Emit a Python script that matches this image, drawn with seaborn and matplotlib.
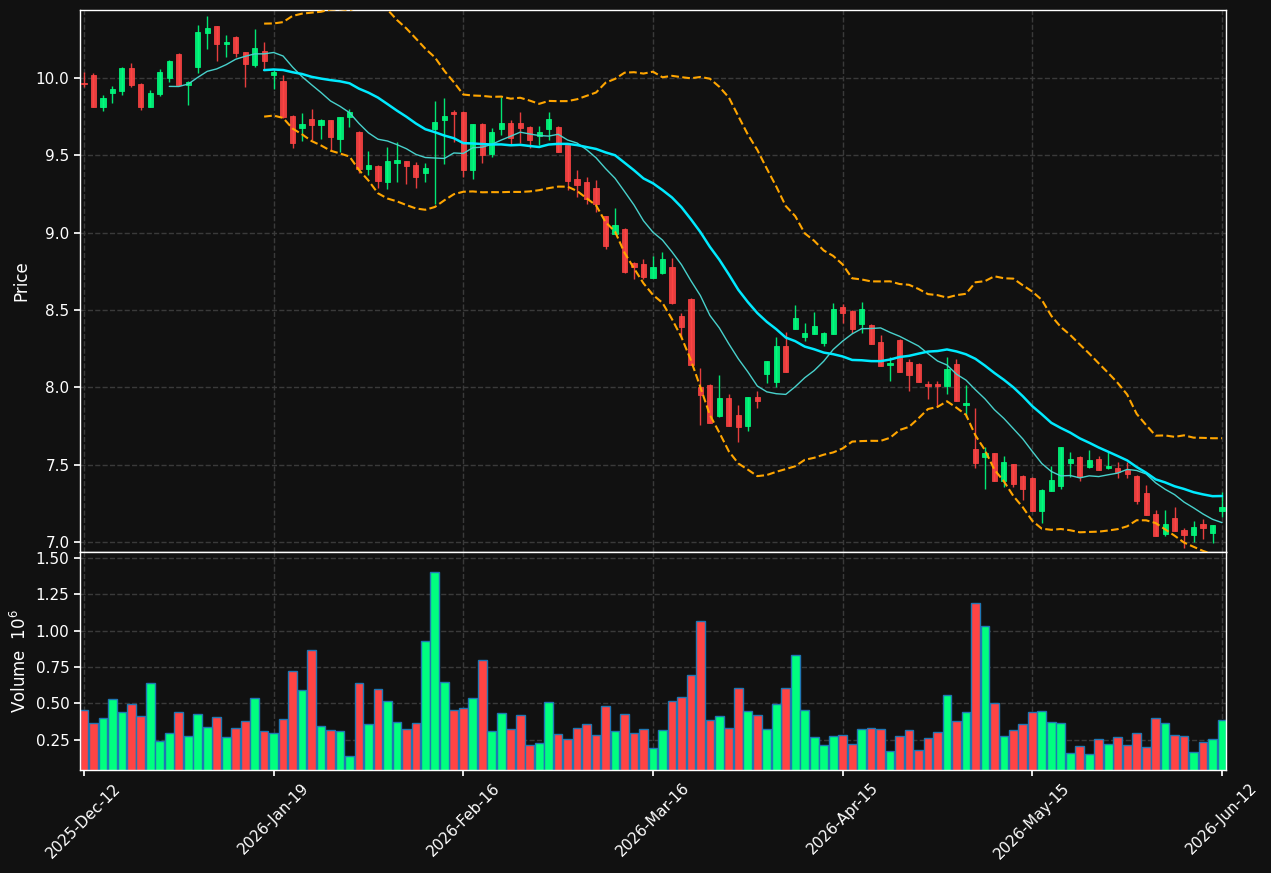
import numpy as np
import pandas as pd
import matplotlib
matplotlib.use('Agg')
import matplotlib.pyplot as plt
import seaborn as sns

# daily OHLC (121 sessions)
opens = [9.97, 10.02, 9.815, 9.905, 9.918, 10.065, 9.96, 9.815, 9.899, 10.002,
         10.155, 9.955, 10.071, 10.291, 10.336, 10.22, 10.265, 10.168, 10.084, 10.175,
         10.019, 9.981, 9.754, 9.679, 9.735, 9.698, 9.728, 9.608, 9.75, 9.651,
         9.412, 9.431, 9.33, 9.452, 9.463, 9.437, 9.388, 9.67, 9.728, 9.78,
         9.78, 9.405, 9.703, 9.509, 9.67, 9.709, 9.709, 9.683, 9.627, 9.67,
         9.683, 9.567, 9.347, 9.328, 9.289, 9.108, 8.993, 9.024, 8.804, 8.80,
         8.709, 8.741, 8.778, 8.461, 8.571, 8.005, 8.015, 7.815, 7.931, 7.821,
         7.75, 7.938, 8.088, 8.035, 8.27, 8.379, 8.328, 8.347, 8.289, 8.347,
         8.519, 8.494, 8.411, 8.403, 8.293, 8.144, 8.306, 8.164, 8.151, 8.022,
         8.02, 8.011, 8.151, 7.888, 7.601, 7.55, 7.573, 7.396, 7.502, 7.427,
         7.414, 7.202, 7.332, 7.364, 7.513, 7.55, 7.485, 7.537, 7.478, 7.478,
         7.466, 7.427, 7.317, 7.183, 7.054, 7.155, 7.078, 7.047, 7.119, 7.06,
         7.202]
highs = [10.04, 10.03, 9.89, 9.948, 10.07, 10.095, 9.965, 9.92, 10.06, 10.12,
         10.16, 9.98, 10.343, 10.40, 10.34, 10.278, 10.27, 10.17, 10.317, 10.233,
         10.05, 10.02, 9.76, 9.776, 9.797, 9.735, 9.73, 9.75, 9.797, 9.655,
         9.528, 9.435, 9.556, 9.584, 9.465, 9.457, 9.45, 9.849, 9.869, 9.793,
         9.785, 9.703, 9.71, 9.675, 9.875, 9.728, 9.78, 9.69, 9.688, 9.78,
         9.69, 9.57, 9.405, 9.36, 9.34, 9.11, 9.159, 9.03, 8.81, 8.83,
         8.851, 8.873, 8.838, 8.479, 8.575, 8.123, 8.02, 8.08, 7.96, 7.886,
         7.94, 7.976, 8.17, 8.328, 8.356, 8.532, 8.414, 8.487, 8.355, 8.543,
         8.54, 8.50, 8.55, 8.41, 8.338, 8.198, 8.31, 8.181, 8.155, 8.041,
         8.041, 8.194, 8.181, 8.013, 7.865, 7.616, 7.575, 7.554, 7.505, 7.43,
         7.42, 7.34, 7.491, 7.614, 7.58, 7.555, 7.595, 7.556, 7.584, 7.517,
         7.517, 7.43, 7.369, 7.205, 7.207, 7.228, 7.09, 7.136, 7.149, 7.112,
         7.326]
lows = [9.94, 9.81, 9.79, 9.836, 9.888, 9.94, 9.793, 9.81, 9.885, 9.975,
        9.95, 9.828, 10.034, 10.19, 10.112, 10.134, 10.134, 9.94, 10.073, 10.056,
        9.927, 9.745, 9.545, 9.591, 9.60, 9.604, 9.534, 9.524, 9.681, 9.384,
        9.373, 9.291, 9.28, 9.33, 9.313, 9.291, 9.33, 9.183, 9.442, 9.588,
        9.362, 9.349, 9.452, 9.49, 9.631, 9.573, 9.578, 9.545, 9.567, 9.599,
        9.52, 9.276, 9.233, 9.185, 9.136, 8.892, 8.99, 8.74, 8.703, 8.70,
        8.705, 8.735, 8.54, 8.328, 8.146, 7.755, 7.77, 7.81, 7.75, 7.649,
        7.72, 7.869, 8.03, 8.0, 8.10, 8.375, 8.301, 8.345, 8.27, 8.345,
        8.414, 8.349, 8.349, 8.28, 8.14, 8.041, 8.10, 7.974, 8.036, 7.923,
        7.88, 7.955, 7.914, 7.81, 7.477, 7.341, 7.396, 7.358, 7.358, 7.272,
        7.20, 7.125, 7.33, 7.341, 7.422, 7.393, 7.48, 7.465, 7.475, 7.411,
        7.411, 7.246, 7.175, 7.041, 7.041, 7.07, 6.96, 7.0, 7.022, 6.99,
        7.16]
closes = [9.96, 9.815, 9.87, 9.93, 10.065, 9.957, 9.815, 9.903, 10.039, 10.108,
          9.953, 9.976, 10.297, 10.323, 10.222, 10.233, 10.164, 10.093, 10.194, 10.112,
          10.041, 9.748, 9.582, 9.703, 9.698, 9.728, 9.621, 9.748, 9.782, 9.414,
          9.436, 9.336, 9.465, 9.47, 9.431, 9.362, 9.418, 9.716, 9.754, 9.769,
          9.405, 9.703, 9.504, 9.651, 9.709, 9.612, 9.679, 9.599, 9.651, 9.735,
          9.52, 9.334, 9.308, 9.22, 9.185, 8.916, 9.05, 8.746, 8.778, 8.713,
          8.778, 8.83, 8.547, 8.392, 8.146, 7.95, 7.772, 7.931, 7.75, 7.746,
          7.938, 7.914, 8.17, 8.27, 8.101, 8.448, 8.351, 8.397, 8.351, 8.506,
          8.483, 8.379, 8.506, 8.282, 8.14, 8.157, 8.101, 8.082, 8.036, 8.011,
          8.01, 8.118, 7.914, 7.899, 7.513, 7.573, 7.396, 7.517, 7.375, 7.345,
          7.202, 7.336, 7.401, 7.614, 7.537, 7.42, 7.53, 7.468, 7.491, 7.455,
          7.44, 7.265, 7.177, 7.041, 7.119, 7.073, 7.047, 7.097, 7.093, 7.112,
          7.226]
# volume in millions
volumes = [0.455, 0.365, 0.40, 0.531, 0.441, 0.497, 0.414, 0.642, 0.241, 0.296,
           0.441, 0.276, 0.427, 0.338, 0.407, 0.269, 0.331, 0.379, 0.538, 0.31,
           0.296, 0.393, 0.724, 0.593, 0.869, 0.345, 0.317, 0.31, 0.137, 0.642,
           0.358, 0.60, 0.517, 0.372, 0.324, 0.365, 0.925, 1.40, 0.648, 0.455,
           0.469, 0.538, 0.80, 0.31, 0.434, 0.324, 0.421, 0.213, 0.227, 0.51,
           0.289, 0.255, 0.331, 0.358, 0.282, 0.483, 0.31, 0.427, 0.296, 0.324,
           0.193, 0.317, 0.517, 0.545, 0.697, 1.063, 0.386, 0.414, 0.331, 0.607,
           0.448, 0.421, 0.324, 0.497, 0.607, 0.835, 0.455, 0.269, 0.213, 0.276,
           0.282, 0.22, 0.324, 0.331, 0.324, 0.172, 0.276, 0.317, 0.179, 0.262,
           0.303, 0.559, 0.379, 0.441, 1.187, 1.028, 0.503, 0.276, 0.317, 0.358,
           0.441, 0.448, 0.372, 0.365, 0.158, 0.206, 0.151, 0.255, 0.22, 0.269,
           0.213, 0.296, 0.20, 0.40, 0.365, 0.282, 0.276, 0.165, 0.234, 0.255,
           0.386]
tick_pos = [0, 20, 40, 60, 80, 100, 120]
tick_labels = ['2025-Dec-12', '2026-Jan-19', '2026-Feb-16', '2026-Mar-16',
               '2026-Apr-15', '2026-May-15', '2026-Jun-12']

df = pd.DataFrame({'Open': opens, 'High': highs, 'Low': lows,
                   'Close': closes, 'Volume': volumes})
df['idx'] = np.arange(len(df))
df['dir'] = np.where(df.Close >= df.Open, 'up', 'down')
df['ma10'] = df.Close.rolling(10).mean()
df['ma20'] = df.Close.rolling(20).mean()
sd = df.Close.rolling(20).std(ddof=0)
df['bb_up'] = df.ma20 + 2 * sd
df['bb_lo'] = df.ma20 - 2 * sd

bg = '#111111'
up_c, down_c = '#00ff7f', '#ff4444'
sns.set_theme(style='darkgrid', rc={
    'figure.facecolor': bg, 'axes.facecolor': bg, 'axes.edgecolor': 'white',
    'axes.labelcolor': 'white', 'xtick.color': 'white', 'ytick.color': 'white',
    'text.color': 'white', 'grid.color': '#3a3a3a', 'grid.linestyle': '--',
    'grid.linewidth': 1.0, 'axes.linewidth': 1.0,
    'xtick.bottom': True, 'ytick.left': True,
    'xtick.major.size': 4, 'ytick.major.size': 4,
})
plt.rcParams['font.family'] = ['DejaVu Sans']

fig = plt.figure(figsize=(12.71, 8.73), dpi=100)
ax = fig.add_axes([0.0629, 0.3677, 0.9017, 0.6208])
axv = fig.add_axes([0.0629, 0.118, 0.9017, 0.2497], sharex=ax)

cols = np.where(df.dir == 'up', up_c, down_c)

# candles: wicks then bodies
ax.vlines(df.idx, df.Low, df.High, colors=cols, linewidth=1, alpha=0.9, zorder=2)
body = (df.Close - df.Open).abs()
ax.bar(df.idx, body, bottom=df[['Open', 'Close']].min(axis=1), width=0.55,
       color=cols, edgecolor=cols, linewidth=0.6, alpha=0.9, zorder=3)

# moving averages and bollinger bands
sns.lineplot(data=df, x='idx', y='ma10', ax=ax, color='#48d1cc', linewidth=1.0, zorder=4)
sns.lineplot(data=df, x='idx', y='ma20', ax=ax, color='#00eaff', linewidth=1.8, zorder=4)
sns.lineplot(data=df, x='idx', y='bb_up', ax=ax, color='#ffa500', linewidth=1.5,
             linestyle='--', zorder=4)
sns.lineplot(data=df, x='idx', y='bb_lo', ax=ax, color='#ffa500', linewidth=1.5,
             linestyle='--', zorder=4)

ax.set_ylim(6.935, 10.44)
ax.set_yticks(np.arange(7.0, 10.01, 0.5))
ax.set_yticklabels([f'{v:.1f}' for v in np.arange(7.0, 10.01, 0.5)])
ax.set_ylabel('Price')
ax.set_xlabel('')
ax.tick_params(axis='x', labelbottom=False)

# volume panel
sns.barplot(data=df, x='idx', y='Volume', hue='dir', palette={'up': up_c, 'down': down_c},
            native_scale=True, dodge=False, width=0.92, saturation=1, errorbar=None,
            edgecolor='#1f77b4', linewidth=1.0, legend=False, ax=axv)
axv.set_ylim(0.3 * min(volumes), 1.1 * max(volumes))
axv.set_yticks([0.25, 0.5, 0.75, 1.0, 1.25, 1.5])
axv.set_yticklabels(['0.25', '0.50', '0.75', '1.00', '1.25', '1.50'])
axv.set_ylabel('Volume  $10^{6}$')
axv.set_xlabel('')

axv.set_xlim(-0.42, 120.42)
axv.set_xticks(tick_pos)
axv.set_xticklabels(tick_labels, rotation=45)

for a in (ax, axv):
    a.grid(True, axis='both')
    for s in a.spines.values():
        s.set_color('white')
        s.set_visible(True)

fig.savefig('out.png', dpi=100, facecolor=bg)
